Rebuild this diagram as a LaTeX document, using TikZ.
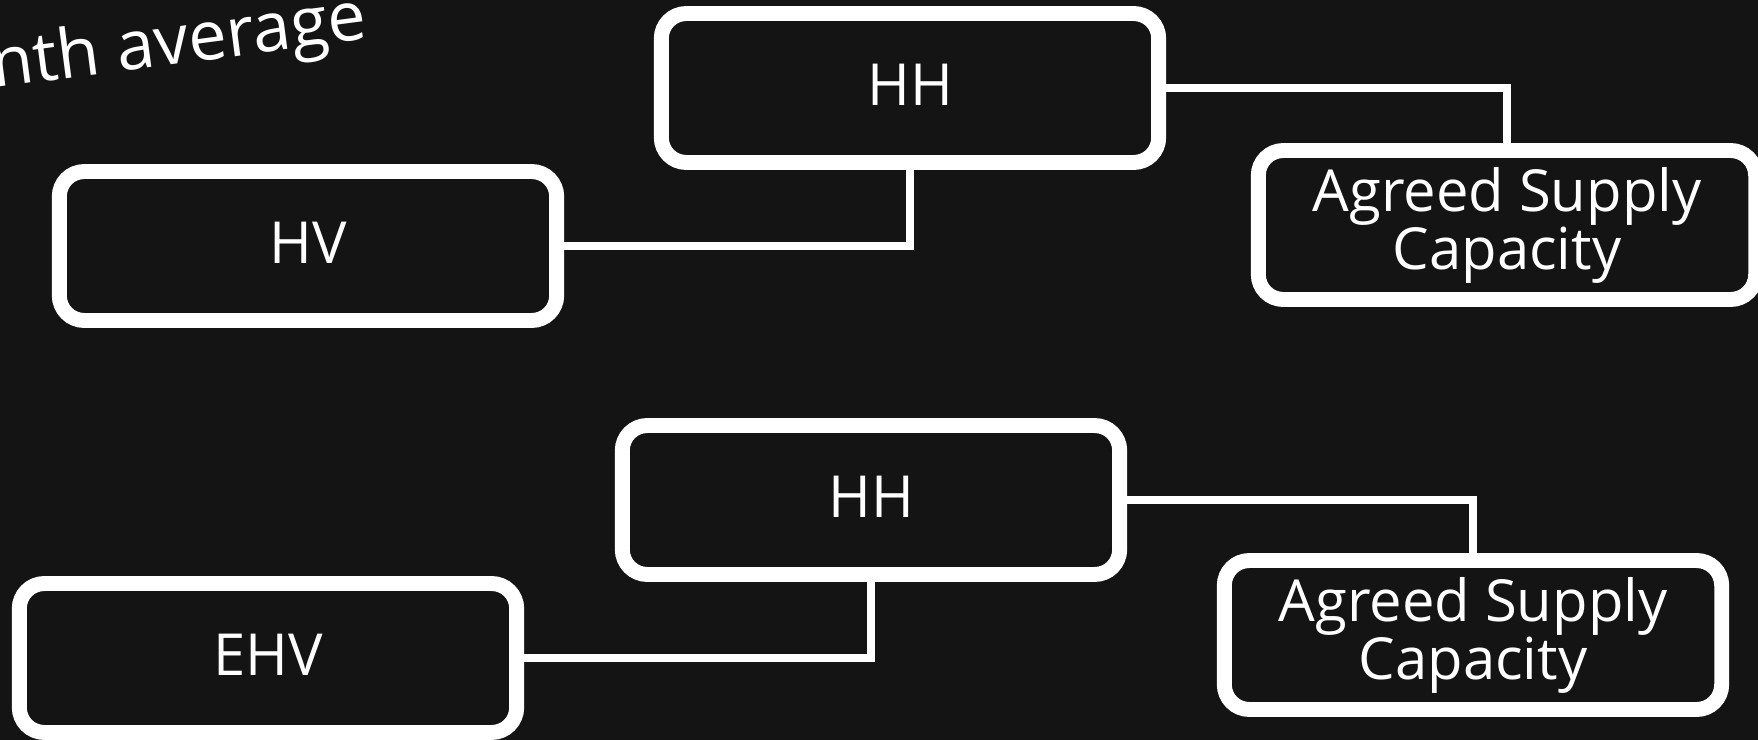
\documentclass[tikz,border=0pt]{standalone}
\usepackage{fontspec}
\setmainfont{Open Sans}
\usepackage{xcolor}
\definecolor{board}{HTML}{141414}
\definecolor{chalk}{HTML}{FFFFFF}
\usetikzlibrary{positioning}

\begin{document}
\begin{tikzpicture}[
  x=0.02cm, y=-0.02cm,
  font=\fontsize{33}{33}\selectfont,
  tariff/.style={draw=chalk,line width=8.5pt,fill=board,text=chalk,
    rounded corners=0.5cm,minimum width=9.95cm,minimum height=2.98cm,
    align=center,inner sep=0pt},
  level/.style={tariff,text depth=0.14cm},
  link/.style={draw=chalk,line width=4.2pt}
]
\useasboundingbox (0,0) rectangle (1758,740);
\fill[board] (0,0) rectangle (1758,740);

\node[rotate=7.5,anchor=base west,text=chalk,inner sep=0pt,
  font=\fontsize{39}{39}\selectfont] (note) at (-6,88) {nth average};

% upper group
\node[level] (hh1) at (910,88) {HH};
\node[level] (hv) at (308,246) {HV};
\node[tariff] (asc1) at (1507,225) {Agreed Supply\\Capacity};

% lower group
\node[level] (hh2) at (871,500) {HH};
\node[level] (ehv) at (268,658) {EHV};
\node[tariff] (asc2) at (1473,635) {Agreed Supply\\Capacity};

\draw[link] (hh1.south) |- (hv.east);
\draw[link] (hh1.east) -| (asc1.north);
\draw[link] (hh2.south) |- (ehv.east);
\draw[link] (hh2.east) -| (asc2.north);
\end{tikzpicture}
\end{document}
